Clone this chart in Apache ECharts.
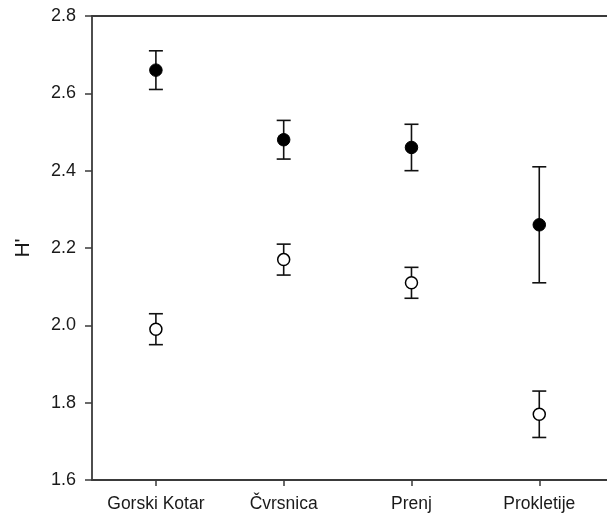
<!DOCTYPE html>
<html>
<head>
<meta charset="utf-8">
<script src="https://cdn.jsdelivr.net/npm/echarts@6/dist/echarts.min.js"></script>
<style>html,body{margin:0;padding:0;background:#fff;}#c{width:607px;height:516px;}</style>
</head>
<body>
<div id="c"></div>
<script>
const categories = ['Gorski Kotar', 'Čvrsnica', 'Prenj', 'Prokletije'];
const filledMean = [2.66, 2.48, 2.46, 2.26];
const filledLow  = [2.61, 2.43, 2.40, 2.11];
const filledHigh = [2.71, 2.53, 2.52, 2.41];
const openMean = [1.99, 2.17, 2.11, 1.77];
const openLow  = [1.95, 2.13, 2.07, 1.71];
const openHigh = [2.03, 2.21, 2.15, 1.83];
const yTicks = [1.6, 1.8, 2.0, 2.2, 2.4, 2.6, 2.8];

const lineColor = '#3a3a3a';
const font = 'Liberation Sans, Arial, sans-serif';
const xPos = categories.map((c, i) => i + 1);

function errData(low, high) {
  return categories.map((c, i) => [xPos[i], low[i], high[i]]);
}
function errRender(params, api) {
  const x = api.value(0);
  const lo = api.coord([x, api.value(1)]);
  const hi = api.coord([x, api.value(2)]);
  const w = 7;
  const st = { stroke: '#111', lineWidth: 1.6 };
  return {
    type: 'group',
    children: [
      { type: 'line', shape: { x1: lo[0], y1: lo[1], x2: hi[0], y2: hi[1] }, style: st },
      { type: 'line', shape: { x1: lo[0] - w, y1: lo[1], x2: lo[0] + w, y2: lo[1] }, style: st },
      { type: 'line', shape: { x1: hi[0] - w, y1: hi[1], x2: hi[0] + w, y2: hi[1] }, style: st }
    ]
  };
}

const chart = echarts.init(document.getElementById('c'), null, { renderer: 'canvas' });
chart.setOption({
  animation: false,
  backgroundColor: '#fff',
  grid: { left: 92, right: 0, top: 16, bottom: 36, containLabel: false },
  xAxis: [{
    type: 'value', min: 0.5, max: 4.53, position: 'bottom',
    splitLine: { show: false },
    axisLine: { show: true, lineStyle: { color: lineColor, width: 1.8 } },
    axisTick: { show: true, inside: false, length: 6, customValues: xPos, lineStyle: { color: lineColor, width: 1.5 } },
    axisLabel: {
      customValues: xPos, margin: 15,
      formatter: v => categories[Math.round(v) - 1] || '',
      color: '#1a1a1a', fontSize: 17.5, fontFamily: font
    }
  }, {
    type: 'value', min: 0.5, max: 4.53, position: 'top',
    splitLine: { show: false },
    axisLine: { show: true, onZero: false, lineStyle: { color: lineColor, width: 1.8 } },
    axisTick: { show: false }, axisLabel: { show: false }
  }],
  yAxis: {
    type: 'value', min: 1.6, max: 2.8, interval: 0.2,
    name: "H'", nameLocation: 'middle', nameRotate: 90, nameGap: 58,
    nameTextStyle: { fontSize: 21, color: '#1a1a1a', fontFamily: font },
    splitLine: { show: false },
    axisLine: { show: true, lineStyle: { color: lineColor, width: 1.8 } },
    axisTick: { show: true, length: 7, lineStyle: { color: lineColor, width: 1.5 } },
    axisLabel: {
      margin: 16, color: '#1a1a1a', fontSize: 18, fontFamily: font,
      formatter: v => { const t = yTicks.find(k => Math.abs(k - v) < 1e-6); return t !== undefined ? t.toFixed(1) : ''; }
    }
  },
  series: [
    { type: 'custom', renderItem: errRender, data: errData(filledLow, filledHigh), z: 2, encode: { x: 0, y: [1, 2] } },
    { type: 'custom', renderItem: errRender, data: errData(openLow, openHigh), z: 2, encode: { x: 0, y: [1, 2] } },
    {
      type: 'scatter', z: 5, symbol: 'circle', symbolSize: 12.5,
      itemStyle: { color: '#000', borderColor: '#000', borderWidth: 1, opacity: 1 },
      data: filledMean.map((v, i) => [xPos[i], v])
    },
    {
      type: 'scatter', z: 5, symbol: 'circle', symbolSize: 12,
      itemStyle: { color: '#fff', borderColor: '#000', borderWidth: 1.5, opacity: 1 },
      data: openMean.map((v, i) => [xPos[i], v])
    }
  ]
});
</script>
</body>
</html>
